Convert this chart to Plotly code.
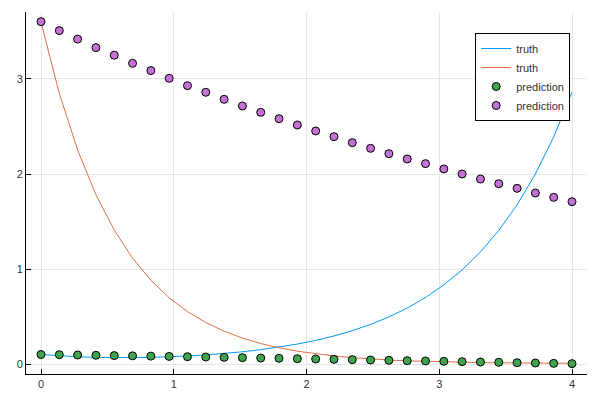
import numpy as np
import plotly.graph_objects as go

# 30 time points from 0 to 4
t = np.linspace(0, 4, 30)

truth_u1 = [0.100, 0.086, 0.076, 0.070, 0.067, 0.067, 0.070, 0.076, 0.084, 0.096,
            0.110, 0.129, 0.151, 0.178, 0.210, 0.249, 0.295, 0.351, 0.417, 0.495,
            0.589, 0.700, 0.833, 0.991, 1.180, 1.405, 1.675, 2.000, 2.390, 2.860]
truth_u2 = [3.600, 2.848, 2.253, 1.782, 1.410, 1.115, 0.882, 0.698, 0.552, 0.437,
            0.345, 0.273, 0.216, 0.171, 0.135, 0.107, 0.085, 0.067, 0.053, 0.042,
            0.033, 0.027, 0.022, 0.018, 0.015, 0.013, 0.011, 0.010, 0.009, 0.008]
pred_u1 = [0.100, 0.098, 0.095, 0.092, 0.089, 0.086, 0.083, 0.080, 0.077, 0.074,
           0.070, 0.067, 0.063, 0.060, 0.056, 0.053, 0.049, 0.046, 0.042, 0.039,
           0.035, 0.032, 0.028, 0.025, 0.021, 0.018, 0.014, 0.011, 0.007, 0.004]
pred_u2 = [3.603, 3.509, 3.420, 3.330, 3.250, 3.165, 3.088, 3.007, 2.930, 2.860,
           2.786, 2.716, 2.649, 2.582, 2.516, 2.453, 2.393, 2.330, 2.270, 2.214,
           2.158, 2.109, 2.053, 2.000, 1.947, 1.898, 1.849, 1.800, 1.754, 1.709]

fig = go.Figure()
fig.add_trace(go.Scatter(x=t, y=truth_u1, mode='lines', name='truth',
                         line=dict(color='#009AFA', width=1)))
fig.add_trace(go.Scatter(x=t, y=truth_u2, mode='lines', name='truth',
                         line=dict(color='#E36F47', width=1)))
fig.add_trace(go.Scatter(x=t, y=pred_u1, mode='markers', name='prediction',
                         marker=dict(color='#3EA44E', size=8,
                                     line=dict(color='black', width=1))))
fig.add_trace(go.Scatter(x=t, y=pred_u2, mode='markers', name='prediction',
                         marker=dict(color='#C371D2', size=8,
                                     line=dict(color='black', width=1))))

axis_style = dict(showgrid=True, gridcolor='#e6e6e6', gridwidth=1,
                  zeroline=False, showline=True, linecolor='black', linewidth=1,
                  ticks='inside', ticklen=5, tickcolor='black', automargin=False,
                  tickfont=dict(size=11, color='#333'))

# page body has an 8px margin, so the figure is shrunk by that much
fig.update_layout(
    width=592, height=392,
    margin=dict(l=18, r=13, t=4, b=26),
    plot_bgcolor='white', paper_bgcolor='white',
    font=dict(family='Liberation Sans, Arial, sans-serif'),
    xaxis=dict(range=[-0.113, 4.113], tickvals=[0, 1, 2, 3, 4], **axis_style),
    yaxis=dict(range=[-0.105, 3.705], tickvals=[0, 1, 2, 3], **axis_style),
    legend=dict(x=0.97, y=0.942, xanchor='right', yanchor='top',
                bgcolor='white', bordercolor='black', borderwidth=1,
                entrywidth=66, tracegroupgap=0,
                font=dict(size=11, color='#333')),
)

fig.write_html("out.html")
